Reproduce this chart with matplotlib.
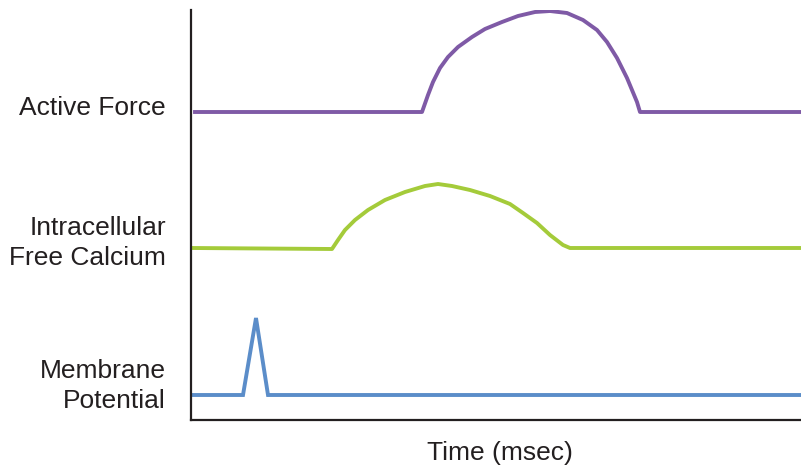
import numpy as np
import matplotlib
matplotlib.use("Agg")
import matplotlib.pyplot as plt

# traces: time (arbitrary msec units) vs trace height
force_t = [4, 231, 237, 242, 249, 257, 267, 281, 294, 311, 327, 344, 359, 376, 392, 406, 416, 426, 436, 446, 449, 610]
force_y = [308, 308, 325, 338, 352, 363, 373, 383, 391, 398, 404, 408, 409, 407, 400, 390, 378, 362, 342, 318, 308, 308]

calcium_t = [2, 141, 147, 154, 164, 177, 194, 214, 234, 247, 261, 279, 299, 319, 332, 346, 359, 372, 379, 389, 610]
calcium_y = [172, 171, 180, 190, 200, 210, 220, 228, 234, 236, 234, 230, 224, 216, 207, 197, 185, 175, 172, 172, 172]

membrane_t = [2, 52, 65, 77, 610]
membrane_y = [25, 25, 102, 25, 25]

labels = ["Active Force", "Intracellular\nFree Calcium", "Membrane\nPotential"]
label_y = [108, 243, 386]  # pixel rows of label centres
xlabel = "Time (msec)"

colors = ["#7f5aa6", "#a4cb3a", "#5b8dc9"]

W, H = 801, 468
fig = plt.figure(figsize=(W / 100, H / 100), dpi=100)
ax = fig.add_axes([191 / W, (H - 420) / H, (W - 191) / W, 410 / H])

ax.plot(force_t, force_y, color=colors[0], lw=2.8, solid_joinstyle="round")
ax.plot(calcium_t, calcium_y, color=colors[1], lw=2.8, solid_joinstyle="round")
ax.plot(membrane_t, membrane_y, color=colors[2], lw=2.8, solid_joinstyle="miter")

ax.set_xlim(0, 610)
ax.set_ylim(0, 410)
ax.set_xticks([])
ax.set_yticks([])
for s in ["top", "right"]:
    ax.spines[s].set_visible(False)
for s in ["left", "bottom"]:
    ax.spines[s].set_color("#231f20")
    ax.spines[s].set_linewidth(1.6)

font = dict(family="Liberation Sans", size=19, color="#231f20")
for lab, yy in zip(labels, label_y):
    fig.text(166 / W, 1 - yy / H, lab, ha="right", va="center",
             multialignment="right", linespacing=1.3, **font)

fig.text(500 / W, 1 - 453 / H, xlabel, ha="center", va="center", **font)

fig.savefig("out.png", dpi=100)
